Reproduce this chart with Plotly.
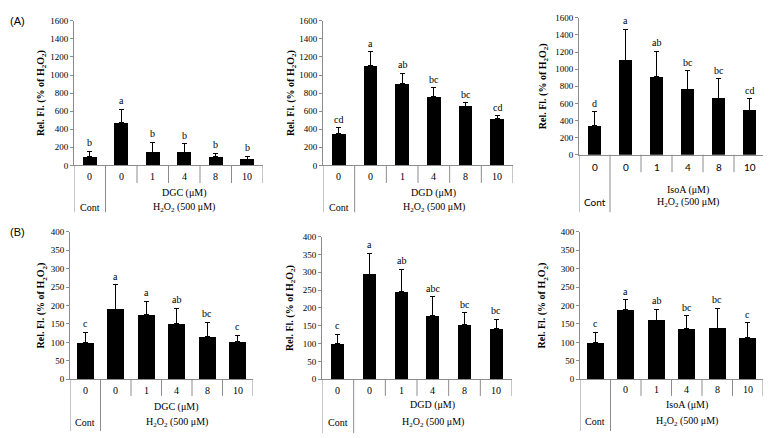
import plotly.graph_objects as go

# ---------------- data ----------------
categories = ["0", "0", "1", "4", "8", "10"]
categories_B3 = ["", "0", "1", "4", "8", "10"]

A_DGC_mean = [100, 470, 145, 145, 95, 70]
A_DGC_err = [58, 150, 110, 95, 40, 32]
A_DGC_letters = ["b", "a", "b", "b", "b", "b"]

A_DGD_mean = [350, 1105, 905, 760, 655, 520]
A_DGD_err = [65, 155, 115, 100, 40, 30]
A_DGD_letters = ["cd", "a", "ab", "bc", "bc", "cd"]

A_IsoA_mean = [335, 1105, 910, 765, 660, 520]
A_IsoA_err = [165, 360, 300, 215, 225, 135]
A_IsoA_letters = ["d", "a", "ab", "bc", "bc", "cd"]

B_DGC_mean = [100, 190, 175, 150, 115, 103]
B_DGC_err = [27, 66, 36, 43, 40, 17]
B_DGC_letters = ["c", "a", "a", "ab", "bc", "c"]

B_DGD_mean = [100, 295, 245, 178, 154, 142]
B_DGD_err = [27, 58, 64, 53, 33, 26]
B_DGD_letters = ["c", "a", "ab", "abc", "bc", "bc"]

B_IsoA_mean = [100, 189, 160, 137, 139, 112]
B_IsoA_err = [27, 27, 30, 35, 53, 41]
B_IsoA_letters = ["c", "a", "ab", "bc", "bc", "c"]

ytitle = "<b>Rel. Fl. (% of H<sub>2</sub>O<sub>2</sub>)</b>"

# page has an 8px body margin: the figure starts at (8, 8)
OFF = 8
W, H = 771 - OFF, 438 - OFF
SERIF = "Liberation Serif, Times New Roman, serif"
SANS = "Liberation Sans, Arial, sans-serif"
GRAY = "#8c8c8c"

# panel geometry in page pixels
panels = [
    dict(mean=A_DGC_mean, err=A_DGC_err, let=A_DGC_letters, cats=categories, comp="DGC",
         x0=74, x1=263, yt=16, yb=164, short=182, long=212, r1=175, r2=192, r3=207,
         tx=41, ymax=1600, dt=200, bw=0.43, tickfont=SERIF),
    dict(mean=A_DGD_mean, err=A_DGD_err, let=A_DGD_letters, cats=categories, comp="DGD",
         x0=323, x1=513, yt=16, yb=164, short=182, long=212, r1=175, r2=192, r3=207,
         tx=291, ymax=1600, dt=200, bw=0.44, tickfont=SERIF),
    dict(mean=A_IsoA_mean, err=A_IsoA_err, let=A_IsoA_letters, cats=categories, comp="IsoA",
         x0=579, x1=765, yt=13, yb=153, short=171, long=212, r1=166, r2=189, r3=202,
         tx=543, ymax=1600, dt=200, bw=0.45, tickfont="Lato, sans-serif"),
    dict(mean=B_DGC_mean, err=B_DGC_err, let=B_DGC_letters, cats=categories, comp="DGC",
         x0=70, x1=253, yt=232, yb=383, short=400, long=436, r1=394, r2=411, r3=427,
         tx=42, ymax=400, dt=50, bw=0.56, tickfont=SERIF),
    dict(mean=B_DGD_mean, err=B_DGD_err, let=B_DGD_letters, cats=categories, comp="DGD",
         x0=322, x1=512, yt=237, yb=383, short=400, long=438, r1=394, r2=409, r3=427,
         tx=291, ymax=400, dt=50, bw=0.42, tickfont=SERIF),
    dict(mean=B_IsoA_mean, err=B_IsoA_err, let=B_IsoA_letters, cats=categories_B3, comp="IsoA",
         x0=580, x1=763, yt=232, yb=383, short=400, long=436, r1=393, r2=409, r3=426,
         tx=543, ymax=400, dt=50, bw=0.55, tickfont=SERIF),
]


def px(v):
    return max(0.0, (v - OFF) / W)


def py(v):
    return min(1.0, max(0.0, 1 - (v - OFF) / H))


fig = go.Figure()
annotations = []
shapes = []

for k, p in enumerate(panels):
    n = k + 1
    xa = "x" if n == 1 else f"x{n}"
    ya = "y" if n == 1 else f"y{n}"
    idx = list(range(len(p["mean"])))
    fig.add_trace(go.Bar(
        x=idx, y=p["mean"], xaxis=xa, yaxis=ya, width=p["bw"],
        marker=dict(color="black", line=dict(width=0)),
        error_y=dict(type="data", symmetric=False, array=p["err"],
                     arrayminus=[0] * len(p["err"]), color="black",
                     thickness=1, width=2.5),
        showlegend=False, hoverinfo="skip"))

    xkey = "xaxis" if n == 1 else f"xaxis{n}"
    ykey = "yaxis" if n == 1 else f"yaxis{n}"
    fig.update_layout(**{
        xkey: dict(domain=[px(p["x0"]), px(p["x1"])], anchor=ya, range=[-0.5, 5.5],
                   showline=True, linecolor=GRAY, linewidth=1, showticklabels=False,
                   ticks="", showgrid=False, zeroline=False, fixedrange=True),
        ykey: dict(domain=[py(p["yb"]), py(p["yt"])], anchor=xa, range=[0, p["ymax"]],
                   dtick=p["dt"], showline=True, linecolor=GRAY, linewidth=1,
                   ticks="outside", ticklen=3, tickcolor=GRAY, showgrid=False,
                   zeroline=False, tickfont=dict(family=SERIF, size=9, color="black"),
                   fixedrange=True),
    })

    # significance letters
    for i, (m, e, l) in enumerate(zip(p["mean"], p["err"], p["let"])):
        annotations.append(dict(x=i, y=m + e, xref=xa, yref=ya, text=l, showarrow=False,
                                yanchor="bottom", yshift=1,
                                font=dict(family=SERIF, size=10, color="black")))

    # category table
    for i, c in enumerate(p["cats"]):
        if c:
            annotations.append(dict(x=i, y=py(p["r1"]), xref=xa, yref="paper", text=c,
                                    showarrow=False, yanchor="middle",
                                    font=dict(family=p["tickfont"], size=10, color="black")))
    annotations.append(dict(x=3, y=py(p["r2"]), xref=xa, yref="paper",
                            text=f"{p['comp']} (μM)", showarrow=False, yanchor="middle",
                            font=dict(family=SERIF, size=10, color="black")))
    annotations.append(dict(x=3, y=py(p["r3"]), xref=xa, yref="paper",
                            text="H<sub>2</sub>O<sub>2</sub> (500 μM)", showarrow=False,
                            yanchor="middle", font=dict(family=SERIF, size=10, color="black")))
    annotations.append(dict(x=0, y=py(p["r3"]), xref=xa, yref="paper", text="Cont",
                            showarrow=False, yanchor="middle",
                            font=dict(family=p["tickfont"], size=10, color="black")))

    for b in [i - 0.5 for i in range(len(p["cats"]) + 1)]:
        bottom = p["long"] if b < 1 else p["short"]
        shapes.append(dict(type="line", xref=xa, yref="paper", x0=b, x1=b,
                           y0=py(p["yb"]), y1=py(bottom), line=dict(color=GRAY, width=1)))

    # y-axis title
    annotations.append(dict(x=px(p["tx"]), y=py((p["yt"] + p["yb"]) / 2), xref="paper",
                            yref="paper", text=ytitle, textangle=-90, showarrow=False,
                            xanchor="center", yanchor="middle",
                            font=dict(family=SERIF, size=10, color="black")))

annotations.append(dict(x=px(8), y=py(16), xref="paper", yref="paper", text="(A)",
                        showarrow=False, xanchor="left", yanchor="middle",
                        font=dict(family=SANS, size=11, color="black")))
annotations.append(dict(x=px(8), y=py(232), xref="paper", yref="paper", text="(B)",
                        showarrow=False, xanchor="left", yanchor="middle",
                        font=dict(family=SANS, size=11, color="black")))

fig.update_layout(width=W, height=H, autosize=False,
                  margin=dict(l=0, r=0, t=0, b=0),
                  paper_bgcolor="white", plot_bgcolor="white",
                  annotations=annotations, shapes=shapes, bargap=0)

fig.write_html("out.html")
